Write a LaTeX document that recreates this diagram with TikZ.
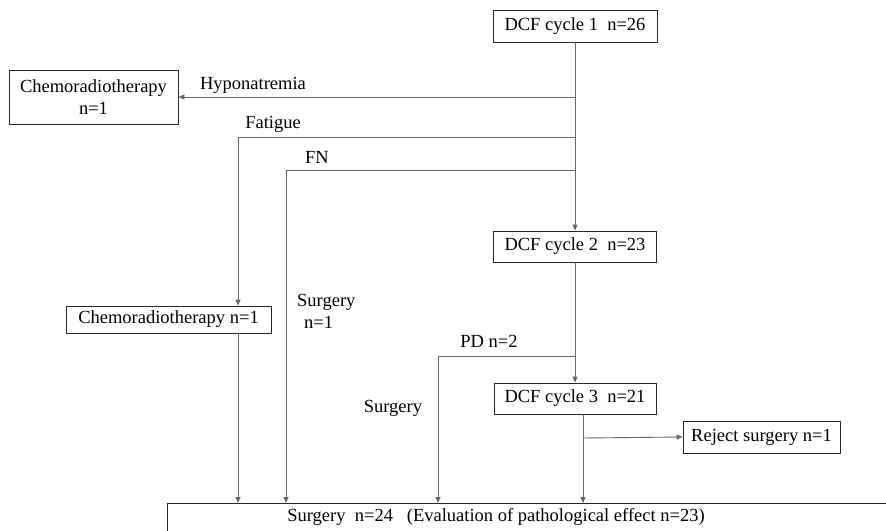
\documentclass[tikz,border=0pt]{standalone}
\usepackage{fontspec}
\setmainfont{Liberation Serif}
\usetikzlibrary{arrows.meta}
\begin{document}
\begin{tikzpicture}[x=1pt,y=-1pt,
  box/.style={draw=black!85,line width=0.9pt,inner sep=0pt,align=center,font=\fontsize{18.5}{22}\selectfont},
  lbl/.style={inner sep=0pt,font=\fontsize{18.5}{22}\selectfont},
  conn/.style={draw=black!60,line width=0.9pt},
  arr/.style={conn,-{Triangle[length=6pt,width=5pt]}}]
\useasboundingbox (0,0) rectangle (886,530);
\clip (0,0) rectangle (886,530);
\node[box,minimum width=164,minimum height=32] (d1) at (575,26) {DCF cycle 1\ \ n=26};
\node[box,minimum width=169,minimum height=54] (c1) at (93.5,97) {Chemoradiotherapy\\n=1};
\node[box,minimum width=163,minimum height=31] (d2) at (575,246.5) {DCF cycle 2\ \ n=23};
\node[box,minimum width=205,minimum height=27] (c2) at (168.5,319.5) {Chemoradiotherapy n=1};
\node[box,minimum width=162,minimum height=31] (d3) at (575,398.5) {DCF cycle 3\ \ n=21};
\node[box,minimum width=157,minimum height=32] (r) at (761.5,437) {Reject surgery n=1};
\node[box,anchor=north west,minimum width=780,minimum height=80] (s) at (167,503) {};
\node[lbl] (st) at (496,517) {Surgery\ \ n=24\ \ \ (Evaluation of pathological effect n=23)};

\node[lbl] (lh) at (253,85) {Hyponatremia};
\node[lbl] (lf) at (273,124) {Fatigue};
\node[lbl] (lfn) at (317,157) {FN};
\node[lbl,align=left,anchor=west] (ls1) at (297,311) {Surgery\\\hspace{7pt}n=1};
\node[lbl] (lpd) at (489,341) {PD n=2};
\node[lbl] (ls2) at (393,408) {Surgery};

\coordinate (fx) at (238,137);
\coordinate (fn) at (286,170);
\coordinate (pd) at (438,356);
\coordinate (g) at (583,438);

\draw[arr] (d1) -- (d2);
\draw[arr] (d2) -- (d3);
\draw[arr] (d1.south |- c1.east) -- (c1.east);
\draw[arr] (d1.south |- fx) -- (fx) -- (fx |- c2.north);
\draw[arr] (fx |- c2.south) -- (fx |- s.north);
\draw[arr] (d1.south |- fn) -- (fn) -- (fn |- s.north);
\draw[arr] (d2.south |- pd) -- (pd) -- (pd |- s.north);
\draw[arr] (g |- d3.south) -- (g |- s.north);
\draw[arr] (g) -- (r.west);
\end{tikzpicture}
\end{document}
